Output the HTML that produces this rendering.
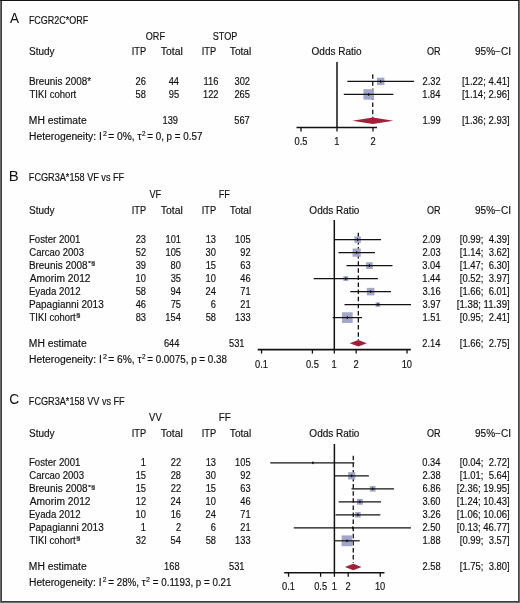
<!DOCTYPE html>
<html><head><meta charset="utf-8"><style>
html,body{margin:0;padding:0;background:#fefefe;}
svg{display:block;font-family:"Liberation Sans",sans-serif;will-change:transform;} text{stroke:#111;stroke-width:0.16px;}
</style></head><body>
<svg width="520" height="603" viewBox="0 0 520 603">
<rect x="0" y="0" width="520" height="603" fill="#fefefe"/>
<rect x="0" y="0" width="2" height="603" fill="#6a6a6a"/>
<rect x="1" y="0" width="1" height="603" fill="#3e3e3e"/>
<rect x="518" y="0" width="2" height="603" fill="#6a6a6a"/>
<rect x="518" y="0" width="1" height="602" fill="#474747"/>
<rect x="0" y="601" width="520" height="2" fill="#6a6a6a"/>
<rect x="1" y="601" width="518" height="1" fill="#3e3e3e"/>
<rect x="0" y="0" width="519" height="1" fill="#141414"/>
<text x="10.00" y="23.10" font-size="15.5" textLength="9.03" lengthAdjust="spacingAndGlyphs" fill="#111" style="stroke-width:0">A</text>
<text x="28.88" y="23.70" font-size="10.1" textLength="59.29" lengthAdjust="spacingAndGlyphs" fill="#111">FCGR2C*ORF</text>
<text x="145.79" y="39.50" font-size="10.0" textLength="19.18" lengthAdjust="spacingAndGlyphs" fill="#111">ORF</text>
<text x="212.79" y="39.50" font-size="10.0" textLength="24.66" lengthAdjust="spacingAndGlyphs" fill="#111">STOP</text>
<text x="29.05" y="55.10" font-size="10.0" textLength="25.47" lengthAdjust="spacingAndGlyphs" fill="#111">Study</text>
<text x="131.67" y="55.10" font-size="10.0" textLength="14.40" lengthAdjust="spacingAndGlyphs" fill="#111">ITP</text>
<text x="160.79" y="55.10" font-size="10.0" textLength="22.01" lengthAdjust="spacingAndGlyphs" fill="#111">Total</text>
<text x="201.67" y="55.10" font-size="10.0" textLength="14.40" lengthAdjust="spacingAndGlyphs" fill="#111">ITP</text>
<text x="229.80" y="55.10" font-size="10.0" textLength="21.49" lengthAdjust="spacingAndGlyphs" fill="#111">Total</text>
<text x="311.55" y="55.10" font-size="10.0" textLength="50.08" lengthAdjust="spacingAndGlyphs" fill="#111">Odds Ratio</text>
<text x="426.99" y="55.10" font-size="10.0" textLength="13.62" lengthAdjust="spacingAndGlyphs" fill="#111">OR</text>
<text x="475.05" y="55.10" font-size="10.0" textLength="35.96" lengthAdjust="spacingAndGlyphs" fill="#111">95%−CI</text>
<text x="28.91" y="84.80" font-size="10.0" textLength="62.22" lengthAdjust="spacingAndGlyphs" fill="#111">Breunis 2008*</text>
<text x="135.55" y="84.80" font-size="10.0" textLength="10.34" lengthAdjust="spacingAndGlyphs" fill="#111">26</text>
<text x="168.71" y="84.80" font-size="10.0" textLength="10.34" lengthAdjust="spacingAndGlyphs" fill="#111">44</text>
<text x="203.54" y="84.80" font-size="10.0" textLength="14.83" lengthAdjust="spacingAndGlyphs" fill="#111">116</text>
<text x="234.48" y="84.80" font-size="10.0" textLength="15.52" lengthAdjust="spacingAndGlyphs" fill="#111">302</text>
<text x="422.58" y="84.80" font-size="10.0" textLength="18.10" lengthAdjust="spacingAndGlyphs" fill="#111">2.32</text>
<text x="461.93" y="84.80" font-size="10.0" textLength="47.77" lengthAdjust="spacingAndGlyphs" fill="#111" xml:space="preserve">[1.22; 4.41]</text>
<text x="29.51" y="97.80" font-size="10.0" textLength="46.75" lengthAdjust="spacingAndGlyphs" fill="#111">TIKI cohort</text>
<text x="135.55" y="97.80" font-size="10.0" textLength="10.34" lengthAdjust="spacingAndGlyphs" fill="#111">58</text>
<text x="168.85" y="97.80" font-size="10.0" textLength="10.34" lengthAdjust="spacingAndGlyphs" fill="#111">95</text>
<text x="202.98" y="97.80" font-size="10.0" textLength="15.52" lengthAdjust="spacingAndGlyphs" fill="#111">122</text>
<text x="234.39" y="97.80" font-size="10.0" textLength="15.52" lengthAdjust="spacingAndGlyphs" fill="#111">265</text>
<text x="422.34" y="97.80" font-size="10.0" textLength="18.10" lengthAdjust="spacingAndGlyphs" fill="#111">1.84</text>
<text x="461.93" y="97.80" font-size="10.0" textLength="47.77" lengthAdjust="spacingAndGlyphs" fill="#111" xml:space="preserve">[1.14; 2.96]</text>
<text x="28.88" y="124.00" font-size="10.0" textLength="57.76" lengthAdjust="spacingAndGlyphs" fill="#111">MH estimate</text>
<text x="162.53" y="124.00" font-size="10.0" textLength="15.52" lengthAdjust="spacingAndGlyphs" fill="#111">139</text>
<text x="234.28" y="124.00" font-size="10.0" textLength="15.52" lengthAdjust="spacingAndGlyphs" fill="#111">567</text>
<text x="422.53" y="124.00" font-size="10.0" textLength="18.10" lengthAdjust="spacingAndGlyphs" fill="#111">1.99</text>
<text x="461.93" y="124.00" font-size="10.0" textLength="47.77" lengthAdjust="spacingAndGlyphs" fill="#111" xml:space="preserve">[1.36; 2.93]</text>
<text x="28.98" y="140.30" font-size="10.0" textLength="72.80" lengthAdjust="spacingAndGlyphs" fill="#111">Heterogeneity: I</text>
<text x="102.95" y="135.70" font-size="6.8" textLength="3.91" lengthAdjust="spacingAndGlyphs" fill="#111">2</text>
<text x="108.29" y="140.30" font-size="10.0" textLength="33.24" lengthAdjust="spacingAndGlyphs" fill="#111">= 0%, τ</text>
<text x="141.98" y="135.70" font-size="6.8" textLength="3.54" lengthAdjust="spacingAndGlyphs" fill="#111">2</text>
<text x="147.21" y="140.30" font-size="10.0" textLength="55.19" lengthAdjust="spacingAndGlyphs" fill="#111">= 0, p = 0.57</text>
<line x1="337.00" y1="62.00" x2="337.00" y2="127.50" stroke="#121212" stroke-width="1.5"/>
<line x1="296.50" y1="127.50" x2="377.00" y2="127.50" stroke="#121212" stroke-width="1.6"/>
<line x1="301.00" y1="127.50" x2="301.00" y2="131.50" stroke="#121212" stroke-width="1.3"/>
<text x="294.54" y="145.20" font-size="10.0" textLength="12.93" lengthAdjust="spacingAndGlyphs" fill="#111">0.5</text>
<line x1="337.00" y1="127.50" x2="337.00" y2="131.50" stroke="#121212" stroke-width="1.3"/>
<text x="334.28" y="145.20" font-size="10.0" textLength="5.17" lengthAdjust="spacingAndGlyphs" fill="#111">1</text>
<line x1="373.00" y1="127.50" x2="373.00" y2="131.50" stroke="#121212" stroke-width="1.3"/>
<text x="370.42" y="145.20" font-size="10.0" textLength="5.17" lengthAdjust="spacingAndGlyphs" fill="#111">2</text>
<line x1="372.74" y1="74.20" x2="372.74" y2="118.00" stroke="#121212" stroke-width="1.3" stroke-dasharray="4.5,2.6"/>
<rect x="377.01" y="77.70" width="7.4" height="7.4" fill="#a3a6ca"/>
<line x1="347.33" y1="81.40" x2="414.07" y2="81.40" stroke="#121212" stroke-width="1.2"/>
<ellipse cx="380.71" cy="81.40" rx="0.75" ry="1.5" fill="#121212"/>
<rect x="363.42" y="89.15" width="10.5" height="10.5" fill="#a3a6ca"/>
<line x1="343.81" y1="94.40" x2="393.36" y2="94.40" stroke="#121212" stroke-width="1.2"/>
<ellipse cx="368.67" cy="94.40" rx="0.75" ry="1.5" fill="#121212"/>
<polygon points="352.37,120.7 372.74,117.45 393.43,120.7 372.74,123.95" fill="#a21f37"/>
<text x="8.80" y="181.30" font-size="15.5" textLength="9.97" lengthAdjust="spacingAndGlyphs" fill="#111" style="stroke-width:0">B</text>
<text x="28.87" y="181.40" font-size="10.1" textLength="95.31" lengthAdjust="spacingAndGlyphs" fill="#111">FCGR3A*158 VF vs FF</text>
<text x="149.45" y="197.50" font-size="10.0" textLength="11.69" lengthAdjust="spacingAndGlyphs" fill="#111">VF</text>
<text x="218.77" y="197.50" font-size="10.0" textLength="11.11" lengthAdjust="spacingAndGlyphs" fill="#111">FF</text>
<text x="29.05" y="213.80" font-size="10.0" textLength="25.47" lengthAdjust="spacingAndGlyphs" fill="#111">Study</text>
<text x="131.67" y="213.80" font-size="10.0" textLength="14.40" lengthAdjust="spacingAndGlyphs" fill="#111">ITP</text>
<text x="160.79" y="213.80" font-size="10.0" textLength="22.01" lengthAdjust="spacingAndGlyphs" fill="#111">Total</text>
<text x="201.67" y="213.80" font-size="10.0" textLength="14.40" lengthAdjust="spacingAndGlyphs" fill="#111">ITP</text>
<text x="229.80" y="213.80" font-size="10.0" textLength="21.49" lengthAdjust="spacingAndGlyphs" fill="#111">Total</text>
<text x="309.35" y="213.80" font-size="10.0" textLength="50.08" lengthAdjust="spacingAndGlyphs" fill="#111">Odds Ratio</text>
<text x="426.99" y="213.80" font-size="10.0" textLength="13.62" lengthAdjust="spacingAndGlyphs" fill="#111">OR</text>
<text x="475.05" y="213.80" font-size="10.0" textLength="35.96" lengthAdjust="spacingAndGlyphs" fill="#111">95%−CI</text>
<text x="28.93" y="243.00" font-size="10.0" textLength="51.52" lengthAdjust="spacingAndGlyphs" fill="#111">Foster 2001</text>
<text x="135.65" y="243.00" font-size="10.0" textLength="10.34" lengthAdjust="spacingAndGlyphs" fill="#111">23</text>
<text x="165.53" y="243.00" font-size="10.0" textLength="15.52" lengthAdjust="spacingAndGlyphs" fill="#111">101</text>
<text x="205.65" y="243.00" font-size="10.0" textLength="10.34" lengthAdjust="spacingAndGlyphs" fill="#111">13</text>
<text x="235.09" y="243.00" font-size="10.0" textLength="15.52" lengthAdjust="spacingAndGlyphs" fill="#111">105</text>
<text x="422.53" y="243.00" font-size="10.0" textLength="18.10" lengthAdjust="spacingAndGlyphs" fill="#111">2.09</text>
<text x="459.84" y="243.00" font-size="10.0" textLength="49.84" lengthAdjust="spacingAndGlyphs" fill="#111" xml:space="preserve">[0.99;  4.39]</text>
<text x="29.22" y="256.00" font-size="10.0" textLength="54.77" lengthAdjust="spacingAndGlyphs" fill="#111">Carcao 2003</text>
<text x="135.74" y="256.00" font-size="10.0" textLength="10.34" lengthAdjust="spacingAndGlyphs" fill="#111">52</text>
<text x="165.49" y="256.00" font-size="10.0" textLength="15.52" lengthAdjust="spacingAndGlyphs" fill="#111">105</text>
<text x="205.60" y="256.00" font-size="10.0" textLength="10.34" lengthAdjust="spacingAndGlyphs" fill="#111">30</text>
<text x="240.34" y="256.00" font-size="10.0" textLength="10.34" lengthAdjust="spacingAndGlyphs" fill="#111">92</text>
<text x="422.48" y="256.00" font-size="10.0" textLength="18.10" lengthAdjust="spacingAndGlyphs" fill="#111">2.03</text>
<text x="459.84" y="256.00" font-size="10.0" textLength="49.84" lengthAdjust="spacingAndGlyphs" fill="#111" xml:space="preserve">[1.14;  3.62]</text>
<text x="28.90" y="269.00" font-size="10.0" textLength="58.63" lengthAdjust="spacingAndGlyphs" fill="#111">Breunis 2008</text>
<text x="87.98" y="265.30" font-size="5.6" textLength="7.35" lengthAdjust="spacingAndGlyphs" fill="#111">*§</text>
<text x="135.70" y="269.00" font-size="10.0" textLength="10.34" lengthAdjust="spacingAndGlyphs" fill="#111">39</text>
<text x="170.60" y="269.00" font-size="10.0" textLength="10.34" lengthAdjust="spacingAndGlyphs" fill="#111">80</text>
<text x="205.65" y="269.00" font-size="10.0" textLength="10.34" lengthAdjust="spacingAndGlyphs" fill="#111">15</text>
<text x="240.25" y="269.00" font-size="10.0" textLength="10.34" lengthAdjust="spacingAndGlyphs" fill="#111">63</text>
<text x="422.34" y="269.00" font-size="10.0" textLength="18.10" lengthAdjust="spacingAndGlyphs" fill="#111">3.04</text>
<text x="459.84" y="269.00" font-size="10.0" textLength="49.84" lengthAdjust="spacingAndGlyphs" fill="#111" xml:space="preserve">[1.47;  6.30]</text>
<text x="29.70" y="282.00" font-size="10.0" textLength="60.83" lengthAdjust="spacingAndGlyphs" fill="#111">Amorim 2012</text>
<text x="135.60" y="282.00" font-size="10.0" textLength="10.34" lengthAdjust="spacingAndGlyphs" fill="#111">10</text>
<text x="170.65" y="282.00" font-size="10.0" textLength="10.34" lengthAdjust="spacingAndGlyphs" fill="#111">35</text>
<text x="205.60" y="282.00" font-size="10.0" textLength="10.34" lengthAdjust="spacingAndGlyphs" fill="#111">10</text>
<text x="240.25" y="282.00" font-size="10.0" textLength="10.34" lengthAdjust="spacingAndGlyphs" fill="#111">46</text>
<text x="422.34" y="282.00" font-size="10.0" textLength="18.10" lengthAdjust="spacingAndGlyphs" fill="#111">1.44</text>
<text x="459.84" y="282.00" font-size="10.0" textLength="49.84" lengthAdjust="spacingAndGlyphs" fill="#111" xml:space="preserve">[0.52;  3.97]</text>
<text x="28.93" y="295.00" font-size="10.0" textLength="51.59" lengthAdjust="spacingAndGlyphs" fill="#111">Eyada 2012</text>
<text x="135.65" y="295.00" font-size="10.0" textLength="10.34" lengthAdjust="spacingAndGlyphs" fill="#111">58</text>
<text x="170.51" y="295.00" font-size="10.0" textLength="10.34" lengthAdjust="spacingAndGlyphs" fill="#111">94</text>
<text x="205.51" y="295.00" font-size="10.0" textLength="10.34" lengthAdjust="spacingAndGlyphs" fill="#111">24</text>
<text x="240.30" y="295.00" font-size="10.0" textLength="10.34" lengthAdjust="spacingAndGlyphs" fill="#111">71</text>
<text x="422.48" y="295.00" font-size="10.0" textLength="18.10" lengthAdjust="spacingAndGlyphs" fill="#111">3.16</text>
<text x="459.84" y="295.00" font-size="10.0" textLength="49.84" lengthAdjust="spacingAndGlyphs" fill="#111" xml:space="preserve">[1.66;  6.01]</text>
<text x="28.90" y="308.00" font-size="10.0" textLength="74.82" lengthAdjust="spacingAndGlyphs" fill="#111">Papagianni 2013</text>
<text x="135.65" y="308.00" font-size="10.0" textLength="10.34" lengthAdjust="spacingAndGlyphs" fill="#111">46</text>
<text x="170.65" y="308.00" font-size="10.0" textLength="10.34" lengthAdjust="spacingAndGlyphs" fill="#111">75</text>
<text x="210.81" y="308.00" font-size="10.0" textLength="5.17" lengthAdjust="spacingAndGlyphs" fill="#111">6</text>
<text x="240.30" y="308.00" font-size="10.0" textLength="10.34" lengthAdjust="spacingAndGlyphs" fill="#111">21</text>
<text x="422.58" y="308.00" font-size="10.0" textLength="18.10" lengthAdjust="spacingAndGlyphs" fill="#111">3.97</text>
<text x="456.83" y="308.00" font-size="10.0" textLength="52.86" lengthAdjust="spacingAndGlyphs" fill="#111" xml:space="preserve">[1.38; 11.39]</text>
<text x="29.51" y="321.00" font-size="10.0" textLength="46.14" lengthAdjust="spacingAndGlyphs" fill="#111">TIKI cohort</text>
<text x="75.96" y="317.10" font-size="5.2" textLength="4.50" lengthAdjust="spacingAndGlyphs" fill="#111">§</text>
<text x="135.65" y="321.00" font-size="10.0" textLength="10.34" lengthAdjust="spacingAndGlyphs" fill="#111">83</text>
<text x="165.35" y="321.00" font-size="10.0" textLength="15.52" lengthAdjust="spacingAndGlyphs" fill="#111">154</text>
<text x="205.65" y="321.00" font-size="10.0" textLength="10.34" lengthAdjust="spacingAndGlyphs" fill="#111">58</text>
<text x="235.09" y="321.00" font-size="10.0" textLength="15.52" lengthAdjust="spacingAndGlyphs" fill="#111">133</text>
<text x="422.53" y="321.00" font-size="10.0" textLength="18.10" lengthAdjust="spacingAndGlyphs" fill="#111">1.51</text>
<text x="459.84" y="321.00" font-size="10.0" textLength="49.84" lengthAdjust="spacingAndGlyphs" fill="#111" xml:space="preserve">[0.95;  2.41]</text>
<text x="28.88" y="346.50" font-size="10.0" textLength="57.76" lengthAdjust="spacingAndGlyphs" fill="#111">MH estimate</text>
<text x="163.95" y="346.50" font-size="10.0" textLength="15.52" lengthAdjust="spacingAndGlyphs" fill="#111">644</text>
<text x="229.03" y="346.50" font-size="10.0" textLength="15.52" lengthAdjust="spacingAndGlyphs" fill="#111">531</text>
<text x="422.34" y="346.50" font-size="10.0" textLength="18.10" lengthAdjust="spacingAndGlyphs" fill="#111">2.14</text>
<text x="459.84" y="346.50" font-size="10.0" textLength="49.84" lengthAdjust="spacingAndGlyphs" fill="#111" xml:space="preserve">[1.66;  2.75]</text>
<text x="28.98" y="363.40" font-size="10.0" textLength="72.80" lengthAdjust="spacingAndGlyphs" fill="#111">Heterogeneity: I</text>
<text x="102.95" y="358.80" font-size="6.8" textLength="3.91" lengthAdjust="spacingAndGlyphs" fill="#111">2</text>
<text x="108.29" y="363.40" font-size="10.0" textLength="33.24" lengthAdjust="spacingAndGlyphs" fill="#111">= 6%, τ</text>
<text x="141.98" y="358.80" font-size="6.8" textLength="3.54" lengthAdjust="spacingAndGlyphs" fill="#111">2</text>
<text x="147.21" y="363.40" font-size="10.0" textLength="79.72" lengthAdjust="spacingAndGlyphs" fill="#111">= 0.0075, p = 0.38</text>
<line x1="334.30" y1="220.00" x2="334.30" y2="349.60" stroke="#121212" stroke-width="1.5"/>
<line x1="257.70" y1="349.60" x2="410.80" y2="349.60" stroke="#121212" stroke-width="1.6"/>
<line x1="261.55" y1="349.60" x2="261.55" y2="353.60" stroke="#121212" stroke-width="1.3"/>
<text x="255.11" y="367.60" font-size="10.0" textLength="12.93" lengthAdjust="spacingAndGlyphs" fill="#111">0.1</text>
<line x1="312.40" y1="349.60" x2="312.40" y2="353.60" stroke="#121212" stroke-width="1.3"/>
<text x="305.94" y="367.60" font-size="10.0" textLength="12.93" lengthAdjust="spacingAndGlyphs" fill="#111">0.5</text>
<line x1="334.30" y1="349.60" x2="334.30" y2="353.60" stroke="#121212" stroke-width="1.3"/>
<text x="331.58" y="367.60" font-size="10.0" textLength="5.17" lengthAdjust="spacingAndGlyphs" fill="#111">1</text>
<line x1="356.20" y1="349.60" x2="356.20" y2="353.60" stroke="#121212" stroke-width="1.3"/>
<text x="353.62" y="367.60" font-size="10.0" textLength="5.17" lengthAdjust="spacingAndGlyphs" fill="#111">2</text>
<line x1="407.05" y1="349.60" x2="407.05" y2="353.60" stroke="#121212" stroke-width="1.3"/>
<text x="401.70" y="367.60" font-size="10.0" textLength="10.34" lengthAdjust="spacingAndGlyphs" fill="#111">10</text>
<line x1="358.34" y1="232.80" x2="358.34" y2="340.00" stroke="#121212" stroke-width="1.3" stroke-dasharray="4.5,2.6"/>
<rect x="354.34" y="236.35" width="6.5" height="6.5" fill="#a3a6ca"/>
<line x1="333.98" y1="239.60" x2="381.04" y2="239.60" stroke="#121212" stroke-width="1.2"/>
<ellipse cx="357.59" cy="239.60" rx="0.75" ry="1.5" fill="#121212"/>
<rect x="352.57" y="248.50" width="8.2" height="8.2" fill="#a3a6ca"/>
<line x1="338.44" y1="252.60" x2="374.95" y2="252.60" stroke="#121212" stroke-width="1.2"/>
<ellipse cx="356.67" cy="252.60" rx="0.75" ry="1.5" fill="#121212"/>
<rect x="366.08" y="262.25" width="6.7" height="6.7" fill="#a3a6ca"/>
<line x1="346.47" y1="265.60" x2="392.45" y2="265.60" stroke="#121212" stroke-width="1.2"/>
<ellipse cx="369.43" cy="265.60" rx="0.75" ry="1.5" fill="#121212"/>
<rect x="343.37" y="276.15" width="4.9" height="4.9" fill="#a3a6ca"/>
<line x1="313.64" y1="278.60" x2="377.86" y2="278.60" stroke="#121212" stroke-width="1.2"/>
<ellipse cx="345.82" cy="278.60" rx="0.75" ry="1.5" fill="#121212"/>
<rect x="366.90" y="287.85" width="7.5" height="7.5" fill="#a3a6ca"/>
<line x1="350.31" y1="291.60" x2="390.96" y2="291.60" stroke="#121212" stroke-width="1.2"/>
<ellipse cx="370.65" cy="291.60" rx="0.75" ry="1.5" fill="#121212"/>
<rect x="375.61" y="302.35" width="4.5" height="4.5" fill="#a3a6ca"/>
<line x1="344.48" y1="304.60" x2="411.00" y2="304.60" stroke="#121212" stroke-width="1.2"/>
<ellipse cx="377.86" cy="304.60" rx="0.75" ry="1.5" fill="#121212"/>
<rect x="341.97" y="312.25" width="10.7" height="10.7" fill="#a3a6ca"/>
<line x1="332.68" y1="317.60" x2="362.09" y2="317.60" stroke="#121212" stroke-width="1.2"/>
<ellipse cx="347.32" cy="317.60" rx="0.75" ry="1.5" fill="#121212"/>
<polygon points="349.71,343.3 358.34,340.05 366.86,343.3 358.34,346.55" fill="#a21f37"/>
<text x="9.31" y="404.30" font-size="15.5" textLength="9.95" lengthAdjust="spacingAndGlyphs" fill="#111" style="stroke-width:0">C</text>
<text x="28.87" y="404.70" font-size="10.1" textLength="95.82" lengthAdjust="spacingAndGlyphs" fill="#111">FCGR3A*158 VV vs FF</text>
<text x="149.05" y="420.60" font-size="10.0" textLength="12.73" lengthAdjust="spacingAndGlyphs" fill="#111">VV</text>
<text x="218.81" y="420.60" font-size="10.0" textLength="12.00" lengthAdjust="spacingAndGlyphs" fill="#111">FF</text>
<text x="29.05" y="436.80" font-size="10.0" textLength="25.47" lengthAdjust="spacingAndGlyphs" fill="#111">Study</text>
<text x="131.67" y="436.80" font-size="10.0" textLength="14.40" lengthAdjust="spacingAndGlyphs" fill="#111">ITP</text>
<text x="160.79" y="436.80" font-size="10.0" textLength="22.01" lengthAdjust="spacingAndGlyphs" fill="#111">Total</text>
<text x="201.67" y="436.80" font-size="10.0" textLength="14.40" lengthAdjust="spacingAndGlyphs" fill="#111">ITP</text>
<text x="229.80" y="436.80" font-size="10.0" textLength="21.49" lengthAdjust="spacingAndGlyphs" fill="#111">Total</text>
<text x="309.35" y="436.80" font-size="10.0" textLength="50.08" lengthAdjust="spacingAndGlyphs" fill="#111">Odds Ratio</text>
<text x="426.99" y="436.80" font-size="10.0" textLength="13.62" lengthAdjust="spacingAndGlyphs" fill="#111">OR</text>
<text x="475.05" y="436.80" font-size="10.0" textLength="35.96" lengthAdjust="spacingAndGlyphs" fill="#111">95%−CI</text>
<text x="28.93" y="466.20" font-size="10.0" textLength="51.52" lengthAdjust="spacingAndGlyphs" fill="#111">Foster 2001</text>
<text x="140.86" y="466.20" font-size="10.0" textLength="5.17" lengthAdjust="spacingAndGlyphs" fill="#111">1</text>
<text x="170.74" y="466.20" font-size="10.0" textLength="10.34" lengthAdjust="spacingAndGlyphs" fill="#111">22</text>
<text x="205.65" y="466.20" font-size="10.0" textLength="10.34" lengthAdjust="spacingAndGlyphs" fill="#111">13</text>
<text x="235.09" y="466.20" font-size="10.0" textLength="15.52" lengthAdjust="spacingAndGlyphs" fill="#111">105</text>
<text x="422.34" y="466.20" font-size="10.0" textLength="18.10" lengthAdjust="spacingAndGlyphs" fill="#111">0.34</text>
<text x="459.84" y="466.20" font-size="10.0" textLength="49.84" lengthAdjust="spacingAndGlyphs" fill="#111" xml:space="preserve">[0.04;  2.72]</text>
<text x="29.22" y="479.20" font-size="10.0" textLength="54.77" lengthAdjust="spacingAndGlyphs" fill="#111">Carcao 2003</text>
<text x="135.65" y="479.20" font-size="10.0" textLength="10.34" lengthAdjust="spacingAndGlyphs" fill="#111">15</text>
<text x="170.65" y="479.20" font-size="10.0" textLength="10.34" lengthAdjust="spacingAndGlyphs" fill="#111">28</text>
<text x="205.60" y="479.20" font-size="10.0" textLength="10.34" lengthAdjust="spacingAndGlyphs" fill="#111">30</text>
<text x="240.34" y="479.20" font-size="10.0" textLength="10.34" lengthAdjust="spacingAndGlyphs" fill="#111">92</text>
<text x="422.48" y="479.20" font-size="10.0" textLength="18.10" lengthAdjust="spacingAndGlyphs" fill="#111">2.38</text>
<text x="459.84" y="479.20" font-size="10.0" textLength="49.84" lengthAdjust="spacingAndGlyphs" fill="#111" xml:space="preserve">[1.01;  5.64]</text>
<text x="28.90" y="492.20" font-size="10.0" textLength="58.63" lengthAdjust="spacingAndGlyphs" fill="#111">Breunis 2008</text>
<text x="87.98" y="488.50" font-size="5.6" textLength="7.35" lengthAdjust="spacingAndGlyphs" fill="#111">*§</text>
<text x="135.65" y="492.20" font-size="10.0" textLength="10.34" lengthAdjust="spacingAndGlyphs" fill="#111">15</text>
<text x="170.74" y="492.20" font-size="10.0" textLength="10.34" lengthAdjust="spacingAndGlyphs" fill="#111">22</text>
<text x="205.65" y="492.20" font-size="10.0" textLength="10.34" lengthAdjust="spacingAndGlyphs" fill="#111">15</text>
<text x="240.25" y="492.20" font-size="10.0" textLength="10.34" lengthAdjust="spacingAndGlyphs" fill="#111">63</text>
<text x="422.48" y="492.20" font-size="10.0" textLength="18.10" lengthAdjust="spacingAndGlyphs" fill="#111">6.86</text>
<text x="456.83" y="492.20" font-size="10.0" textLength="52.88" lengthAdjust="spacingAndGlyphs" fill="#111" xml:space="preserve">[2.36; 19.95]</text>
<text x="29.70" y="505.20" font-size="10.0" textLength="60.83" lengthAdjust="spacingAndGlyphs" fill="#111">Amorim 2012</text>
<text x="135.74" y="505.20" font-size="10.0" textLength="10.34" lengthAdjust="spacingAndGlyphs" fill="#111">12</text>
<text x="170.51" y="505.20" font-size="10.0" textLength="10.34" lengthAdjust="spacingAndGlyphs" fill="#111">24</text>
<text x="205.60" y="505.20" font-size="10.0" textLength="10.34" lengthAdjust="spacingAndGlyphs" fill="#111">10</text>
<text x="240.25" y="505.20" font-size="10.0" textLength="10.34" lengthAdjust="spacingAndGlyphs" fill="#111">46</text>
<text x="422.44" y="505.20" font-size="10.0" textLength="18.10" lengthAdjust="spacingAndGlyphs" fill="#111">3.60</text>
<text x="456.83" y="505.20" font-size="10.0" textLength="52.88" lengthAdjust="spacingAndGlyphs" fill="#111" xml:space="preserve">[1.24; 10.43]</text>
<text x="28.93" y="518.20" font-size="10.0" textLength="51.59" lengthAdjust="spacingAndGlyphs" fill="#111">Eyada 2012</text>
<text x="135.60" y="518.20" font-size="10.0" textLength="10.34" lengthAdjust="spacingAndGlyphs" fill="#111">10</text>
<text x="170.65" y="518.20" font-size="10.0" textLength="10.34" lengthAdjust="spacingAndGlyphs" fill="#111">16</text>
<text x="205.51" y="518.20" font-size="10.0" textLength="10.34" lengthAdjust="spacingAndGlyphs" fill="#111">24</text>
<text x="240.30" y="518.20" font-size="10.0" textLength="10.34" lengthAdjust="spacingAndGlyphs" fill="#111">71</text>
<text x="422.48" y="518.20" font-size="10.0" textLength="18.10" lengthAdjust="spacingAndGlyphs" fill="#111">3.26</text>
<text x="456.83" y="518.20" font-size="10.0" textLength="52.88" lengthAdjust="spacingAndGlyphs" fill="#111" xml:space="preserve">[1.06; 10.06]</text>
<text x="28.90" y="531.20" font-size="10.0" textLength="74.82" lengthAdjust="spacingAndGlyphs" fill="#111">Papagianni 2013</text>
<text x="140.86" y="531.20" font-size="10.0" textLength="5.17" lengthAdjust="spacingAndGlyphs" fill="#111">1</text>
<text x="175.90" y="531.20" font-size="10.0" textLength="5.17" lengthAdjust="spacingAndGlyphs" fill="#111">2</text>
<text x="210.81" y="531.20" font-size="10.0" textLength="5.17" lengthAdjust="spacingAndGlyphs" fill="#111">6</text>
<text x="240.30" y="531.20" font-size="10.0" textLength="10.34" lengthAdjust="spacingAndGlyphs" fill="#111">21</text>
<text x="422.44" y="531.20" font-size="10.0" textLength="18.10" lengthAdjust="spacingAndGlyphs" fill="#111">2.50</text>
<text x="456.83" y="531.20" font-size="10.0" textLength="52.88" lengthAdjust="spacingAndGlyphs" fill="#111" xml:space="preserve">[0.13; 46.77]</text>
<text x="29.51" y="544.20" font-size="10.0" textLength="46.14" lengthAdjust="spacingAndGlyphs" fill="#111">TIKI cohort</text>
<text x="75.96" y="540.30" font-size="5.2" textLength="4.50" lengthAdjust="spacingAndGlyphs" fill="#111">§</text>
<text x="135.74" y="544.20" font-size="10.0" textLength="10.34" lengthAdjust="spacingAndGlyphs" fill="#111">32</text>
<text x="170.51" y="544.20" font-size="10.0" textLength="10.34" lengthAdjust="spacingAndGlyphs" fill="#111">54</text>
<text x="205.65" y="544.20" font-size="10.0" textLength="10.34" lengthAdjust="spacingAndGlyphs" fill="#111">58</text>
<text x="235.09" y="544.20" font-size="10.0" textLength="15.52" lengthAdjust="spacingAndGlyphs" fill="#111">133</text>
<text x="422.48" y="544.20" font-size="10.0" textLength="18.10" lengthAdjust="spacingAndGlyphs" fill="#111">1.88</text>
<text x="459.84" y="544.20" font-size="10.0" textLength="49.84" lengthAdjust="spacingAndGlyphs" fill="#111" xml:space="preserve">[0.99;  3.57]</text>
<text x="28.88" y="569.80" font-size="10.0" textLength="57.76" lengthAdjust="spacingAndGlyphs" fill="#111">MH estimate</text>
<text x="164.09" y="569.80" font-size="10.0" textLength="15.52" lengthAdjust="spacingAndGlyphs" fill="#111">168</text>
<text x="229.03" y="569.80" font-size="10.0" textLength="15.52" lengthAdjust="spacingAndGlyphs" fill="#111">531</text>
<text x="422.48" y="569.80" font-size="10.0" textLength="18.10" lengthAdjust="spacingAndGlyphs" fill="#111">2.58</text>
<text x="459.84" y="569.80" font-size="10.0" textLength="49.84" lengthAdjust="spacingAndGlyphs" fill="#111" xml:space="preserve">[1.75;  3.80]</text>
<text x="28.98" y="586.20" font-size="10.0" textLength="72.60" lengthAdjust="spacingAndGlyphs" fill="#111">Heterogeneity: I</text>
<text x="102.77" y="581.60" font-size="6.8" textLength="3.67" lengthAdjust="spacingAndGlyphs" fill="#111">2</text>
<text x="108.31" y="586.20" font-size="10.0" textLength="37.23" lengthAdjust="spacingAndGlyphs" fill="#111">= 28%, τ</text>
<text x="145.95" y="581.60" font-size="6.8" textLength="3.91" lengthAdjust="spacingAndGlyphs" fill="#111">2</text>
<text x="152.81" y="586.20" font-size="10.0" textLength="78.72" lengthAdjust="spacingAndGlyphs" fill="#111">= 0.1193, p = 0.21</text>
<line x1="334.40" y1="444.00" x2="334.40" y2="572.80" stroke="#121212" stroke-width="1.5"/>
<line x1="284.20" y1="572.80" x2="384.50" y2="572.80" stroke="#121212" stroke-width="1.6"/>
<line x1="288.56" y1="572.80" x2="288.56" y2="576.80" stroke="#121212" stroke-width="1.3"/>
<text x="282.12" y="590.20" font-size="10.0" textLength="12.93" lengthAdjust="spacingAndGlyphs" fill="#111">0.1</text>
<line x1="320.60" y1="572.80" x2="320.60" y2="576.80" stroke="#121212" stroke-width="1.3"/>
<text x="314.14" y="590.20" font-size="10.0" textLength="12.93" lengthAdjust="spacingAndGlyphs" fill="#111">0.5</text>
<line x1="334.40" y1="572.80" x2="334.40" y2="576.80" stroke="#121212" stroke-width="1.3"/>
<text x="331.68" y="590.20" font-size="10.0" textLength="5.17" lengthAdjust="spacingAndGlyphs" fill="#111">1</text>
<line x1="348.20" y1="572.80" x2="348.20" y2="576.80" stroke="#121212" stroke-width="1.3"/>
<text x="345.62" y="590.20" font-size="10.0" textLength="5.17" lengthAdjust="spacingAndGlyphs" fill="#111">2</text>
<line x1="380.24" y1="572.80" x2="380.24" y2="576.80" stroke="#121212" stroke-width="1.3"/>
<text x="374.90" y="590.20" font-size="10.0" textLength="10.34" lengthAdjust="spacingAndGlyphs" fill="#111">10</text>
<line x1="353.27" y1="455.70" x2="353.27" y2="563.00" stroke="#121212" stroke-width="1.3" stroke-dasharray="4.5,2.6"/>
<rect x="312.12" y="462.00" width="1.6" height="1.6" fill="#a3a6ca"/>
<line x1="270.31" y1="462.80" x2="354.32" y2="462.80" stroke="#121212" stroke-width="1.2"/>
<ellipse cx="312.92" cy="462.80" rx="0.75" ry="1.5" fill="#121212"/>
<rect x="348.06" y="472.20" width="7.2" height="7.2" fill="#a3a6ca"/>
<line x1="334.60" y1="475.80" x2="368.84" y2="475.80" stroke="#121212" stroke-width="1.2"/>
<ellipse cx="351.66" cy="475.80" rx="0.75" ry="1.5" fill="#121212"/>
<rect x="369.89" y="485.95" width="5.7" height="5.7" fill="#a3a6ca"/>
<line x1="351.50" y1="488.80" x2="393.99" y2="488.80" stroke="#121212" stroke-width="1.2"/>
<ellipse cx="372.74" cy="488.80" rx="0.75" ry="1.5" fill="#121212"/>
<rect x="356.95" y="498.85" width="5.9" height="5.9" fill="#a3a6ca"/>
<line x1="338.68" y1="501.80" x2="381.08" y2="501.80" stroke="#121212" stroke-width="1.2"/>
<ellipse cx="359.90" cy="501.80" rx="0.75" ry="1.5" fill="#121212"/>
<rect x="355.18" y="512.05" width="5.5" height="5.5" fill="#a3a6ca"/>
<line x1="335.56" y1="514.80" x2="380.36" y2="514.80" stroke="#121212" stroke-width="1.2"/>
<ellipse cx="357.93" cy="514.80" rx="0.75" ry="1.5" fill="#121212"/>
<line x1="293.78" y1="527.80" x2="410.96" y2="527.80" stroke="#121212" stroke-width="1.2"/>
<ellipse cx="352.64" cy="527.80" rx="0.75" ry="1.5" fill="#121212"/>
<rect x="341.57" y="535.40" width="10.8" height="10.8" fill="#a3a6ca"/>
<line x1="334.20" y1="540.80" x2="359.74" y2="540.80" stroke="#121212" stroke-width="1.2"/>
<ellipse cx="346.97" cy="540.80" rx="0.75" ry="1.5" fill="#121212"/>
<polygon points="344.94,566.9 353.27,563.65 361.58,566.9 353.27,570.15" fill="#a21f37"/>
</svg>
</body></html>
